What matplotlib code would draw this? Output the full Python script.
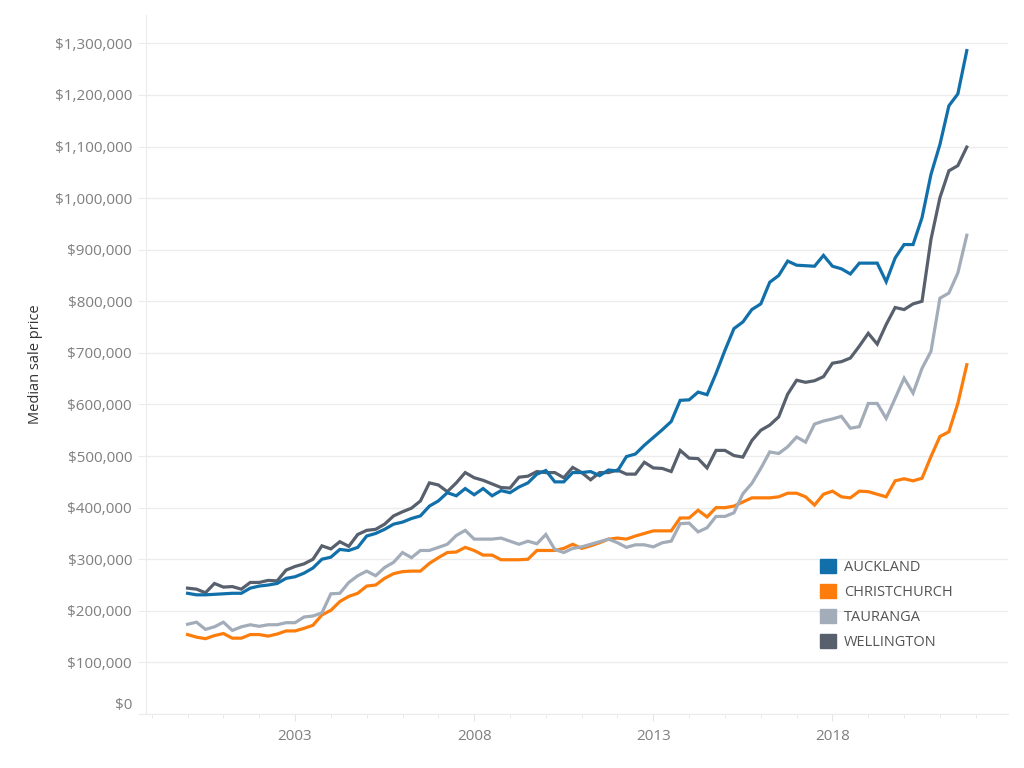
import numpy as np
import pandas as pd
import matplotlib
matplotlib.use("Agg")
from matplotlib import pyplot as plt
from matplotlib.patches import Patch
import matplotlib.transforms as mtransforms

# quarterly medians (in $k), 2000Q1 .. 2021Q4
quarters = pd.period_range("2000Q1", "2021Q4", freq="Q")
xq = quarters.year + (quarters.quarter - 1) / 4.0

auckland = [234, 231, 231, 232, 233, 234, 234, 244, 248, 250, 253, 263, 266, 273, 283, 300, 304, 319, 317,
            323, 345, 350, 358, 368, 372, 379, 384, 403, 413, 429, 423, 437, 425, 437, 423, 433, 429,
            440, 448, 465, 472, 450, 450, 468, 468, 470, 462, 473, 471, 499, 504, 521, 536, 551, 567,
            608, 609, 624, 619, 660, 705, 747, 760, 784, 795, 837, 850, 878, 870, 869, 868, 889, 868,
            863, 853, 874, 874, 874, 838, 884, 910, 910, 962, 1046, 1104, 1179, 1202, 1286]
christchurch = [154, 149, 146, 152, 156, 147, 147, 154, 154, 151, 155, 161, 161, 166, 172, 192, 201, 218, 228,
                234, 248, 250, 263, 272, 276, 277, 277, 292, 303, 313, 314, 323, 317, 308, 308, 299, 299,
                299, 300, 317, 317, 317, 321, 329, 321, 326, 332, 339, 341, 339, 345, 350, 355, 355, 355,
                380, 380, 395, 382, 400, 400, 403, 411, 419, 419, 419, 421, 428, 428, 421, 405, 426, 432,
                421, 419, 432, 431, 426, 421, 452, 456, 452, 457, 499, 538, 547, 602, 677]
tauranga = [174, 178, 164, 169, 178, 162, 169, 173, 170, 173, 173, 177, 177, 188, 190, 196, 233, 234, 255,
            268, 277, 268, 284, 294, 313, 303, 317, 317, 323, 329, 346, 356, 339, 339, 339, 341, 335,
            329, 335, 330, 348, 319, 313, 321, 324, 329, 334, 339, 332, 323, 328, 328, 324, 332, 335,
            369, 370, 353, 361, 383, 383, 390, 427, 447, 476, 508, 505, 518, 537, 527, 562, 568, 572,
            577, 554, 557, 602, 602, 573, 612, 651, 622, 670, 703, 806, 816, 855, 928]
wellington = [244, 242, 235, 253, 246, 247, 242, 255, 255, 259, 258, 279, 286, 291, 300, 326, 320, 334, 325,
              348, 356, 358, 368, 384, 392, 399, 413, 448, 444, 431, 448, 468, 458, 453, 446, 439, 438,
              459, 461, 470, 468, 468, 458, 478, 468, 454, 468, 468, 473, 465, 465, 488, 477, 476, 470,
              511, 496, 495, 477, 511, 511, 501, 498, 530, 550, 560, 576, 620, 647, 643, 646, 654, 680,
              683, 690, 713, 738, 717, 755, 788, 784, 795, 800, 920, 1001, 1053, 1063, 1099]

cities = ["AUCKLAND", "CHRISTCHURCH", "TAURANGA", "WELLINGTON"]
series = [auckland, christchurch, tauranga, wellington]
colors = ["#1170aa", "#fc7d0b", "#a3acb9", "#57606c"]

plt.rcParams["font.family"] = ["Open Sans", "DejaVu Sans"]

fig = plt.figure(figsize=(10.24, 7.68), dpi=100)
ax = fig.add_axes([146 / 1024, 1 - 714 / 768, (1008 - 146) / 1024, (714 - 15) / 768])

zs = [5, 2, 3, 4]
for name, vals, c, z in zip(cities, series, colors, zs):
    ax.plot(xq, np.array(vals) * 1000, color=c, lw=2.3, zorder=z, solid_joinstyle="miter")

ax.set_xlim(1998.84, 2022.9)
ax.set_ylim(0, 1355000)

yt = np.arange(0, 1300001, 100000)
ax.set_yticks(yt)
ax.set_yticklabels(["${:,.0f}".format(v) for v in yt])
ax.set_xticks([2003, 2008, 2013, 2018])
ax.set_xticks(np.arange(1999, 2023), minor=True)

ax.grid(axis="y", color="#ececec", lw=1)
ax.set_axisbelow(True)
for s in ["top", "right"]:
    ax.spines[s].set_visible(False)
ax.spines["left"].set_color("#ececec")
ax.spines["bottom"].set_color("#ececec")
ax.tick_params(axis="y", colors="#ececec", labelcolor="#7f7f7f", labelsize=11, length=6, pad=4)
ax.tick_params(axis="x", which="major", colors="#e6e6e6", labelcolor="#7f7f7f", labelsize=11, length=5, pad=6)
ax.tick_params(axis="x", which="minor", colors="#e6e6e6", length=3)

# $0 label sits a bit above its gridline, like the original
lab0 = ax.get_yticklabels()[0]
lab0.set_transform(lab0.get_transform() + mtransforms.ScaledTranslation(0, 0.1, fig.dpi_scale_trans))

ax.set_ylabel("Median sale price", color="#333333", fontsize=10.5)
ax.yaxis.set_label_coords(-0.119, 0.5)

handles = [Patch(facecolor=c, edgecolor=c) for c in colors]
leg = ax.legend(handles, cities, loc="upper left", bbox_to_anchor=(807 / 1024, 1 - 546 / 768),
                bbox_transform=fig.transFigure, frameon=False, fontsize=10.5,
                handlelength=1.1, handleheight=1.1, handletextpad=0.55, labelspacing=0.62)
for t in leg.get_texts():
    t.set_color("#555555")

fig.savefig("out.png", dpi=100)
